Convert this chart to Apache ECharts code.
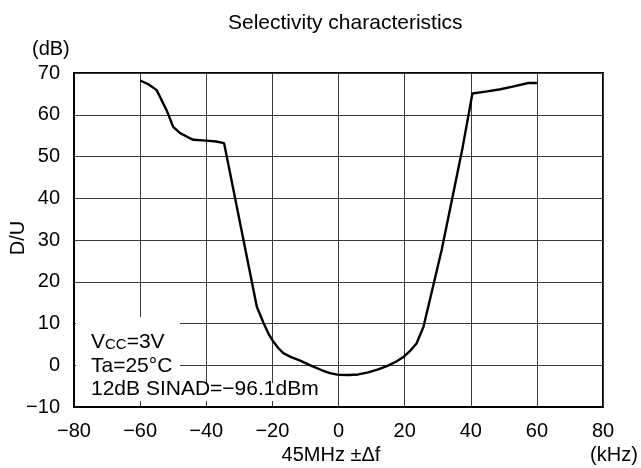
<!DOCTYPE html>
<html>
<head>
<meta charset="utf-8">
<script src="https://cdn.jsdelivr.net/npm/echarts@6/dist/echarts.min.js"></script>
<style>
html,body{margin:0;padding:0;background:#fff;}
#chart{width:641px;height:468px;}
</style>
</head>
<body>
<div id="chart"></div>
<script>
var titleText = 'Selectivity characteristics';
var xTicks = { min: -80, max: 80, interval: 20 };
var yTicks = { min: -10, max: 70, interval: 10 };
var freqOffset = [-60,-57.5,-55,-52,-50,-47.9,-45.5,-43.9,-40,-37,-34.6,-24.7,-22.7,-21.2,-19.9,-18.3,-16.7,-14.5,-11.6,-8,-5,-2.6,0,3,6,9,12,15,17.5,19.5,21.5,23.6,25.7,28.7,31.2,34.3,37.5,40.5,45,49,53,57.4,60];
var duRatio   = [68.2,67.3,65.9,61.1,57.1,55.6,54.6,54.0,53.8,53.6,53.2,14,10.2,7.6,5.9,4.2,2.9,2.0,1.1,-0.2,-1.2,-1.9,-2.3,-2.35,-2.2,-1.7,-1,-0.1,0.9,1.9,3.3,5.2,9.2,19.2,27.6,39.6,52,65.1,65.6,66.1,66.8,67.6,67.6];
var noteLines = ['V{s|CC}=3V', 'Ta=25°C', '12dB SINAD=\u221296.1dBm'];

var FONT = 'Liberation Sans, Arial, Helvetica, sans-serif';
var pts = freqOffset.map(function (x, i) { return [x, duRatio[i]]; });
function minus(v) { return String(v).replace('-', '\u2212'); }

var chart = echarts.init(document.getElementById('chart'));
chart.setOption({
  animation: false,
  backgroundColor: '#fff',
  textStyle: { fontFamily: FONT, color: '#000' },
  title: {
    text: titleText, left: 223, top: 8,
    textStyle: { fontFamily: FONT, fontSize: 21, fontWeight: 'normal', color: '#000' }
  },
  grid: { left: 74, right: 38, top: 73, bottom: 61, containLabel: false, outerBoundsMode: 'none',
          show: true, borderColor: '#000', borderWidth: 2, backgroundColor: 'transparent' },
  xAxis: {
    type: 'value', min: xTicks.min, max: xTicks.max, interval: xTicks.interval,
    axisLine: { show: true, onZero: false, lineStyle: { color: '#000', width: 2 } },
    axisTick: { show: false },
    axisLabel: { margin: 14, fontSize: 20, color: '#000', fontFamily: FONT, formatter: minus },
    splitLine: { show: true, lineStyle: { color: '#3a3a3a', width: 1 } }
  },
  yAxis: {
    type: 'value', min: yTicks.min, max: yTicks.max, interval: yTicks.interval,
    axisLine: { show: true, onZero: false, lineStyle: { color: '#000', width: 2 } },
    axisTick: { show: false },
    axisLabel: { margin: 14, fontSize: 20, color: '#000', fontFamily: FONT, formatter: minus },
    splitLine: { show: true, lineStyle: { color: '#3a3a3a', width: 1 } }
  },
  graphic: [
    { type: 'text', left: 32, top: 39, style: { text: '(dB)', font: '20px ' + FONT, fill: '#000' } },
    { type: 'text', x: 18, y: 238, rotation: Math.PI / 2, style: { text: 'D/U', font: '20px ' + FONT, fill: '#000', align: 'center', verticalAlign: 'middle' } },
    { type: 'text', x: 331, y: 455, style: { text: '45MHz \u00b1\u0394f', font: '20px ' + FONT, fill: '#000', align: 'center', verticalAlign: 'middle' } },
    { type: 'text', x: 614, y: 455, style: { text: '(kHz)', font: '20px ' + FONT, fill: '#000', align: 'center', verticalAlign: 'middle' } },
    { type: 'rect', z: 50, shape: { x: 76, y: 317, width: 104, height: 68 }, style: { fill: '#fff' } },
    { type: 'rect', z: 50, shape: { x: 76, y: 383, width: 248, height: 18 }, style: { fill: '#fff' } },
    { type: 'text', z: 51, x: 91, y: 342, style: { text: noteLines[0], font: '21px ' + FONT, fill: '#000', verticalAlign: 'middle',
        rich: { s: { fontSize: 15, fontFamily: FONT, fill: '#000', padding: [5, 0, 0, 0] } } } },
    { type: 'text', z: 51, x: 91, y: 366, style: { text: noteLines[1], font: '21px ' + FONT, fill: '#000', verticalAlign: 'middle' } },
    { type: 'text', z: 51, x: 91, y: 389, style: { text: noteLines[2], font: '21px ' + FONT, fill: '#000', verticalAlign: 'middle' } }
  ],
  series: [{
    type: 'line', data: pts, showSymbol: false, smooth: false,
    lineStyle: { color: '#000', width: 2.4 }, z: 5
  }]
});
</script>
</body>
</html>
